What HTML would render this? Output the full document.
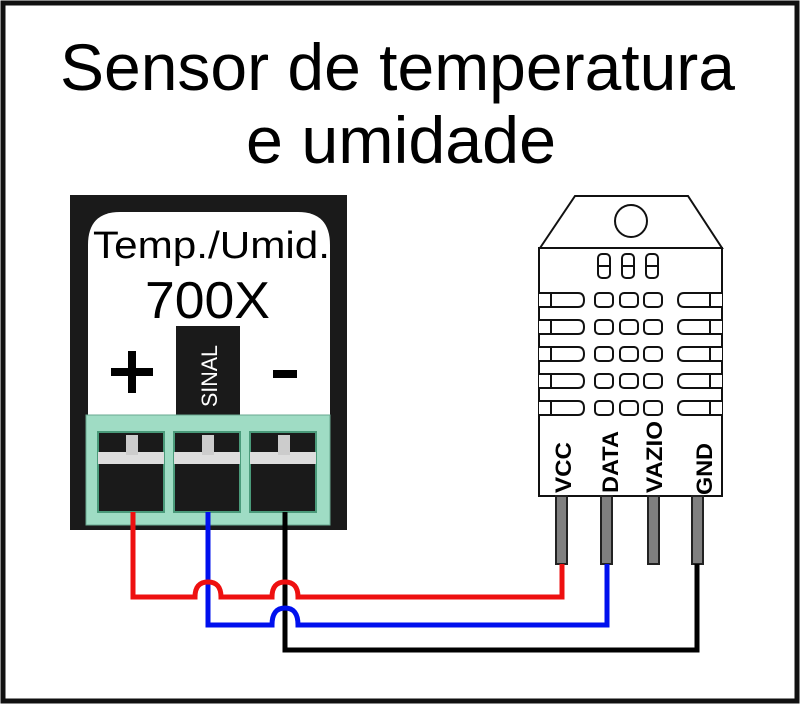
<!DOCTYPE html>
<html><head><meta charset="utf-8"><style>
html,body{margin:0;padding:0;background:#fff;}
svg{display:block;}
text{font-family:"Liberation Sans",Arial,sans-serif;}
</style></head><body>
<svg width="800" height="704" viewBox="0 0 800 704" xmlns="http://www.w3.org/2000/svg">
<rect x="0" y="0" width="800" height="704" fill="#fff"/>
<rect x="3" y="3" width="794" height="698" fill="none" stroke="#111" stroke-width="5"/>
<text x="60" y="90" font-size="66" textLength="675" lengthAdjust="spacingAndGlyphs" fill="#000">Sensor de temperatura</text>
<text x="246" y="163" font-size="66" textLength="310" lengthAdjust="spacingAndGlyphs" fill="#000">e umidade</text>

<!-- module -->
<rect x="70" y="195" width="277" height="335" fill="#1a1a1a"/>
<path d="M88 415 V245 Q88 212 120 212 H298 Q330 212 330 245 V415 Z" fill="#fff"/>
<text x="93" y="258" font-size="38" textLength="237" lengthAdjust="spacingAndGlyphs">Temp./Umid.</text>
<text x="145" y="318" font-size="52" textLength="125" lengthAdjust="spacingAndGlyphs">700X</text>
<rect x="176" y="326" width="64" height="90" fill="#1a1a1a"/>
<text transform="translate(217,407) rotate(-90)" font-size="22" fill="#fff" textLength="62" lengthAdjust="spacingAndGlyphs">SINAL</text>
<rect x="111" y="368" width="42" height="8" fill="#000"/>
<rect x="128" y="351" width="8" height="42" fill="#000"/>
<rect x="273" y="370" width="24" height="8" fill="#000"/>
<rect x="86" y="415" width="244" height="110" fill="#9fdcc4" stroke="#6aa890" stroke-width="1"/>
<g>
 <rect x="98" y="432" width="66" height="80" fill="#1a1a1a" stroke="#4a9a7a" stroke-width="2"/>
 <rect x="98" y="452" width="66" height="12" fill="#ddd"/><rect x="126" y="435" width="12" height="20" fill="#ccc"/>
 <rect x="174" y="432" width="66" height="80" fill="#1a1a1a" stroke="#4a9a7a" stroke-width="2"/>
 <rect x="174" y="452" width="66" height="12" fill="#ddd"/><rect x="202" y="435" width="12" height="20" fill="#ccc"/>
 <rect x="250" y="432" width="66" height="80" fill="#1a1a1a" stroke="#4a9a7a" stroke-width="2"/>
 <rect x="250" y="452" width="66" height="12" fill="#ddd"/><rect x="278" y="435" width="12" height="20" fill="#ccc"/>
</g>

<!-- sensor -->
<g stroke="#111" stroke-width="2" fill="#fff">
 <path d="M540 248 L575 196 H688 L722 248 Z"/>
 <circle cx="631" cy="221" r="16"/>
 <rect x="539" y="248" width="183" height="248"/>
 <rect x="598" y="254" width="12" height="24" rx="4"/><line x1="598" y1="266" x2="610" y2="266"/>
 <rect x="622" y="254" width="12" height="24" rx="4"/><line x1="622" y1="266" x2="634" y2="266"/>
 <rect x="646" y="254" width="12" height="24" rx="4"/><line x1="646" y1="266" x2="658" y2="266"/>
</g>
<g stroke="#111" stroke-width="2" fill="#fff" id="row">
 <path d="M539 293 H578 Q584 293 584 300 Q584 307 578 307 H539"/><line x1="551" y1="293" x2="551" y2="307"/>
 <rect x="595" y="293" width="18" height="14" rx="4"/>
 <rect x="620" y="293" width="18" height="14" rx="4"/>
 <rect x="644" y="293" width="18" height="14" rx="4"/>
 <path d="M722 293 H684 Q678 293 678 300 Q678 307 684 307 H722"/><line x1="710" y1="293" x2="710" y2="307"/>
</g>
<use href="#row" y="27"/><use href="#row" y="54"/><use href="#row" y="81"/><use href="#row" y="108"/>
<g font-size="22" font-weight="bold" fill="#000">
 <text transform="translate(571,493) rotate(-90)" textLength="51" lengthAdjust="spacingAndGlyphs">VCC</text>
 <text transform="translate(618,493) rotate(-90)" textLength="62" lengthAdjust="spacingAndGlyphs">DATA</text>
 <text transform="translate(662,493) rotate(-90)" textLength="72" lengthAdjust="spacingAndGlyphs">VAZIO</text>
 <text transform="translate(712,495) rotate(-90)" textLength="52" lengthAdjust="spacingAndGlyphs">GND</text>
</g>
<g fill="#808080" stroke="#222" stroke-width="2">
 <rect x="556" y="496" width="11" height="68"/>
 <rect x="601" y="496" width="11" height="68"/>
 <rect x="648" y="496" width="11" height="68"/>
 <rect x="692" y="496" width="11" height="68"/>
</g>

<!-- wires -->
<g fill="none" stroke-width="5">
 <path d="M285 512 V650 H697 V564" stroke="#000"/>
 <path d="M208 512 V625 H272 Q272 608 285 608 Q298 608 298 625 H607 V564" stroke="#0010ee"/>
 <path d="M133 512 V597 H195 Q195 582 208 582 Q221 582 221 597 H272 Q272 582 285 582 Q298 582 298 597 H562 V564" stroke="#ee1010"/>
</g>
</svg>
</body></html>
